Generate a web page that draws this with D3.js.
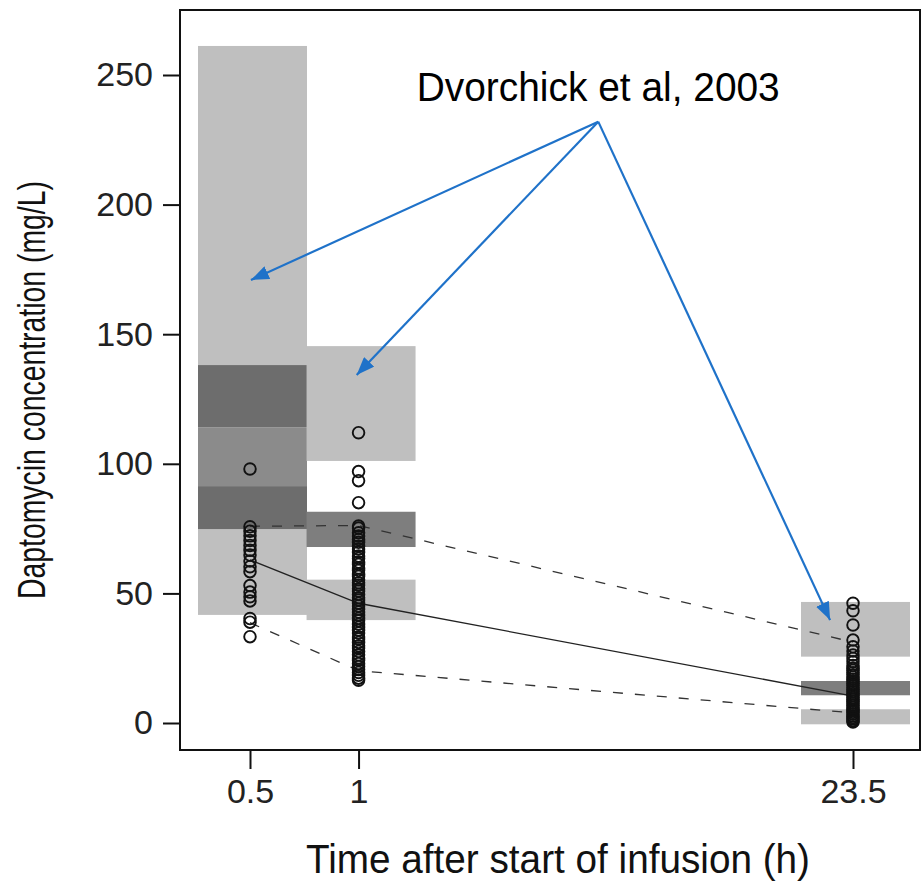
<!DOCTYPE html>
<head>
  <meta charset="utf-8">
  <script src="https://d3js.org/d3.v7.min.js"></script>
  <style>
    body { margin: 0; background: #fff; }
    text { font-family: "Liberation Sans", Arial, sans-serif; }
  </style>
</head>

<body>
  <div id="vpc"></div>
</body>

<script>

// sampling times (h) and their tick labels
var times = [0.5, 1, 23.5];
var timeLabels = ["0.5", "1", "23.5"];
var yTicks = [0, 50, 100, 150, 200, 250];

// shaded bands per time: [lower, upper, shade]
var bands05 = [[41.7, 74.8, "light"], [74.8, 91.4, "dark"], [91.4, 114.1, "mid"], [114.1, 138.1, "dark"], [138.1, 261.2, "light"]];
var bands1 = [[39.7, 55.3, "light"], [67.9, 81.5, "dark2"], [101.1, 145.4, "light"]];
var bands235 = [[-0.5, 5.3, "light"], [10.7, 16.2, "dark2"], [25.6, 46.7, "light"]];

// observed concentrations (mg/L)
var obs05 = [98, 75.7, 74, 72.2, 70.4, 68.5, 66.6, 64.8, 62.5, 60.3, 58.4, 53, 50.5, 48.7, 47.1, 40.3, 38.9, 33.3];
var obs1 = [112, 97, 93.5, 85, 76, 75.2, 73.4, 72.1, 70.8, 69.7, 68.2, 67.1, 65.9, 64.4, 63.5, 62.1, 61.2,
  59.8, 58.9, 57.4, 56.6, 55.3, 54.1, 53.2, 51.8, 50.9, 49.6, 48.3, 47.5, 46.2, 45.1, 43.9, 42.8, 41.6,
  40.4, 39.5, 38.1, 36.9, 35.8, 34.7, 33.2, 32.4, 31.1, 29.8, 28.9, 27.6, 26.3, 25.1, 24.2, 22.9, 21.8,
  20.6, 19.5, 18.4, 17.3, 16.5];
var obs235 = [46.2, 43.3, 37.8, 32, 29.4, 27.8, 26.2, 24.9, 23.6, 22.2, 21.1, 20.3, 19.4, 18.6, 17.7, 16.9,
  16.1, 15.2, 14.5, 13.6, 12.8, 12.1, 11.3, 10.6, 9.8, 9.1, 8.4, 7.6, 6.9, 6.1, 5.4, 4.8, 4.1, 3.4,
  2.7, 2.1, 1.5, 0.9, 0.4];

// percentile lines at each time
var medianLine = [62.9, 46.2, 10.4];
var upperLine = [75.9, 76.2, 31.2];
var lowerLine = [38.7, 20.2, 3.9];

// annotation: label anchor and arrow targets as [time, conc]
var sourceLabel = "Dvorchick et al, 2003";
var arrowFrom = [4.62, 232];
var arrowTo = [[0.503, 170.9], [0.988, 134.3], [20.3, 39.7]];

var shade = {light: "#bfbfbf", mid: "#8b8b8b", dark: "#6d6d6d", dark2: "#7e7e7e"};

var box = {left: 180, top: 10, right: 920, bottom: 750},
    width = 923, height = 886;

var svg = d3.select("#vpc")
  .append("svg")
    .attr("width", width)
    .attr("height", height);

var x = d3.scaleLog()
  .domain([0.5, 23.5])
  .range([250, 853]);

var y = d3.scaleLinear()
  .domain([0, 250])
  .range([723, 75]);

// bands
var bandData = [];
[bands05, bands1, bands235].forEach(function(list, i) {
  list.forEach(function(b) { bandData.push({t: times[i], lo: b[0], hi: b[1], s: b[2]}); });
});

svg.append("g")
  .selectAll("rect")
  .data(bandData)
  .enter()
  .append("rect")
    .attr("x", function(d) { return x(d.t) - 52; })
    .attr("width", 109)
    .attr("y", function(d) { return y(d.hi); })
    .attr("height", function(d) { return y(d.lo) - y(d.hi); })
    .style("fill", function(d) { return shade[d.s]; });

// percentile lines
var line = d3.line()
  .x(function(d, i) { return x(times[i]); })
  .y(function(d) { return y(d); });

svg.append("path").datum(medianLine)
  .attr("d", line).attr("fill", "none")
  .attr("stroke", "#222").attr("stroke-width", 1.3);

[upperLine, lowerLine].forEach(function(l) {
  svg.append("path").datum(l)
    .attr("d", line).attr("fill", "none")
    .attr("stroke", "#333").attr("stroke-width", 1.3)
    .attr("stroke-dasharray", "10,12");
});

// observed points
var pts = [];
[obs05, obs1, obs235].forEach(function(list, i) {
  list.forEach(function(v) { pts.push({t: times[i], v: v}); });
});

svg.append("g")
  .selectAll("circle")
  .data(pts)
  .enter()
  .append("circle")
    .attr("cx", function(d) { return x(d.t); })
    .attr("cy", function(d) { return y(d.v); })
    .attr("r", 5.8)
    .style("fill", "none")
    .style("stroke", "#111")
    .style("stroke-width", 1.9);

// frame
svg.append("rect")
  .attr("x", box.left).attr("y", box.top)
  .attr("width", box.right - box.left).attr("height", box.bottom - box.top)
  .attr("fill", "none").attr("stroke", "#111").attr("stroke-width", 2);

// Y axis
var yAxis = svg.append("g")
  .attr("transform", "translate(" + box.left + ",0)")
  .call(d3.axisLeft(y).tickValues(yTicks).tickSize(17).tickPadding(10));
yAxis.select(".domain").remove();
yAxis.selectAll("line").attr("stroke", "#111").attr("stroke-width", 2);
yAxis.selectAll("text").attr("font-size", 34).attr("fill", "#222")
  .style("font-family", "'Liberation Sans', Arial, sans-serif");

// X axis
var xAxis = svg.append("g")
  .attr("transform", "translate(0," + box.bottom + ")")
  .call(d3.axisBottom(x).tickValues(times)
    .tickFormat(function(d, i) { return timeLabels[i]; })
    .tickSize(19).tickPadding(10));
xAxis.select(".domain").remove();
xAxis.selectAll("line").attr("stroke", "#111").attr("stroke-width", 2);
xAxis.selectAll("text").attr("font-size", 34).attr("fill", "#222")
  .style("font-family", "'Liberation Sans', Arial, sans-serif");

// axis titles
svg.append("text")
  .attr("x", 558).attr("y", 873)
  .attr("text-anchor", "middle")
  .attr("font-size", 40)
  .attr("textLength", 504).attr("lengthAdjust", "spacingAndGlyphs")
  .attr("fill", "#111")
  .text("Time after start of infusion (h)");

svg.append("text")
  .attr("transform", "translate(45,390) rotate(-90)")
  .attr("text-anchor", "middle")
  .attr("font-size", 39)
  .attr("textLength", 418).attr("lengthAdjust", "spacingAndGlyphs")
  .attr("fill", "#111")
  .text("Daptomycin concentration (mg/L)");

// annotation
var blue = "#1f72c9";
svg.append("defs").append("marker")
  .attr("id", "head")
  .attr("viewBox", "0 0 18 14")
  .attr("refX", 18).attr("refY", 7)
  .attr("markerWidth", 18).attr("markerHeight", 14)
  .attr("markerUnits", "userSpaceOnUse")
  .attr("orient", "auto")
  .append("path")
    .attr("d", "M0,0 L18,7 L0,14 Z")
    .attr("fill", blue);

svg.append("g")
  .selectAll("line")
  .data(arrowTo)
  .enter()
  .append("line")
    .attr("x1", x(arrowFrom[0])).attr("y1", y(arrowFrom[1]))
    .attr("x2", function(d) { return x(d[0]); })
    .attr("y2", function(d) { return y(d[1]); })
    .attr("stroke", blue).attr("stroke-width", 2.2)
    .attr("marker-end", "url(#head)");

svg.append("text")
  .attr("x", x(arrowFrom[0])).attr("y", 101)
  .attr("text-anchor", "middle")
  .attr("font-size", 40)
  .attr("textLength", 363).attr("lengthAdjust", "spacingAndGlyphs")
  .attr("fill", "#000")
  .text(sourceLabel);

</script>
